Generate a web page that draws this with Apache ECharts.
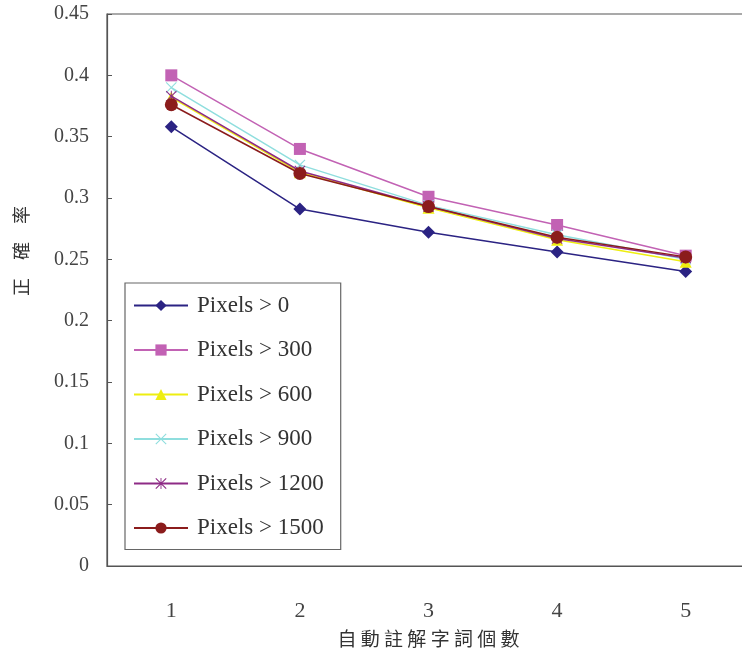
<!DOCTYPE html>
<html>
<head>
<meta charset="utf-8">
<script src="https://cdn.jsdelivr.net/npm/echarts@6/dist/echarts.min.js"></script>
<style>
  html, body { margin: 0; padding: 0; background: #fff; }
  #chart { width: 742px; height: 659px; }
</style>
</head>
<body>
<div id="chart"></div>
<script>
// 資料
var categories = ['1', '2', '3', '4', '5'];
var seriesNames = ['Pixels > 0', 'Pixels > 300', 'Pixels > 600', 'Pixels > 900', 'Pixels > 1200', 'Pixels > 1500'];
var px0    = [0.358, 0.291, 0.272, 0.256, 0.240];
var px300  = [0.400, 0.340, 0.301, 0.278, 0.253];
var px600  = [0.382, 0.321, 0.292, 0.266, 0.248];
var px900  = [0.390, 0.327, 0.294, 0.270, 0.250];
var px1200 = [0.383, 0.322, 0.293, 0.267, 0.251];
var px1500 = [0.376, 0.320, 0.293, 0.268, 0.252];
var yTicks = [0, 0.05, 0.1, 0.15, 0.2, 0.25, 0.3, 0.35, 0.4, 0.45];

var colors = ['#2b2383', '#c262b4', '#eeee10', '#8fdede', '#8e2b86', '#8b1c1c'];
var crossPath = 'path://M0,0.7L0.7,0L5,4.3L9.3,0L10,0.7L5.7,5L10,9.3L9.3,10L5,5.7L0.7,10L0,9.3L4.3,5Z';
var starPath = 'path://M0,0.7L0.7,0L5,4.3L9.3,0L10,0.7L5.7,5L10,9.3L9.3,10L5,5.7L0.7,10L0,9.3L4.3,5Z' +
               'M4.6,0L5.4,0L5.4,10L4.6,10Z';
var symbols = ['diamond', 'rect', 'triangle', crossPath, starPath, 'circle'];
var sizes = [13, 12, 12, 11, 11, 13];
var data = [px0, px300, px600, px900, px1200, px1500];

var serif = '"Liberation Serif", "DejaVu Serif", serif';
var cjk = '"Noto Sans CJK TC", sans-serif';

var series = [];
for (var i = 0; i < seriesNames.length; i++) {
    series.push({
        name: seriesNames[i],
        type: 'line',
        data: data[i],
        symbol: symbols[i],
        symbolSize: sizes[i],
        z: 2 + i,
        itemStyle: { color: colors[i] },
        lineStyle: { color: colors[i], width: 1.5 }
    });
}

var myChart = echarts.init(document.getElementById('chart'));
var option = {
    backgroundColor: '#fff',
    animation: false,
    color: colors,
    grid: {
        left: 107,
        top: 14,
        width: 643,
        height: 552,
        outerBoundsMode: 'none',
        containLabel: false,
        show: true,
        borderColor: '#555',
        borderWidth: 1.2,
        backgroundColor: 'transparent'
    },
    legend: {
        orient: 'vertical',
        left: 125,
        top: 283,
        data: seriesNames,
        backgroundColor: '#fff',
        borderColor: '#666',
        borderWidth: 1.2,
        padding: [11, 17, 10, 8],
        itemWidth: 54,
        itemHeight: 14,
        itemGap: 21.5,
        textStyle: { fontFamily: serif, fontSize: 23, color: '#333', padding: [0, 0, 0, 4] }
    },
    graphic: [{
        type: 'text',
        left: 12,
        top: 206,
        rotation: Math.PI / 2,
        style: { text: '正\u3000確\u3000率', fontFamily: cjk, fontSize: 18, fill: '#333' }
    }],
    xAxis: {
        type: 'category',
        data: categories,
        boundaryGap: true,
        name: '自 動 註 解 字 詞 個 數',
        nameLocation: 'middle',
        nameGap: 63,
        nameTextStyle: { fontFamily: cjk, fontSize: 19, color: '#333' },
        axisLine: { lineStyle: { color: '#555', width: 1.2 } },
        axisTick: { inside: true, length: 6, lineStyle: { color: '#555' } },
        axisLabel: { margin: 34, fontFamily: serif, fontSize: 22, color: '#444' },
        splitLine: { show: false }
    },
    yAxis: {
        type: 'value',
        min: 0,
        max: yTicks[yTicks.length - 1],
        interval: 0.05,
        axisLine: { show: true, lineStyle: { color: '#555', width: 1.2 } },
        axisTick: { show: true, inside: true, length: 5, lineStyle: { color: '#555' } },
        axisLabel: {
            margin: 18,
            fontFamily: serif,
            fontSize: 20,
            color: '#444',
            formatter: function (v) { return String(parseFloat(v.toFixed(2))); }
        },
        splitLine: { show: false }
    },
    series: series
};
myChart.setOption(option);
</script>
</body>
</html>
